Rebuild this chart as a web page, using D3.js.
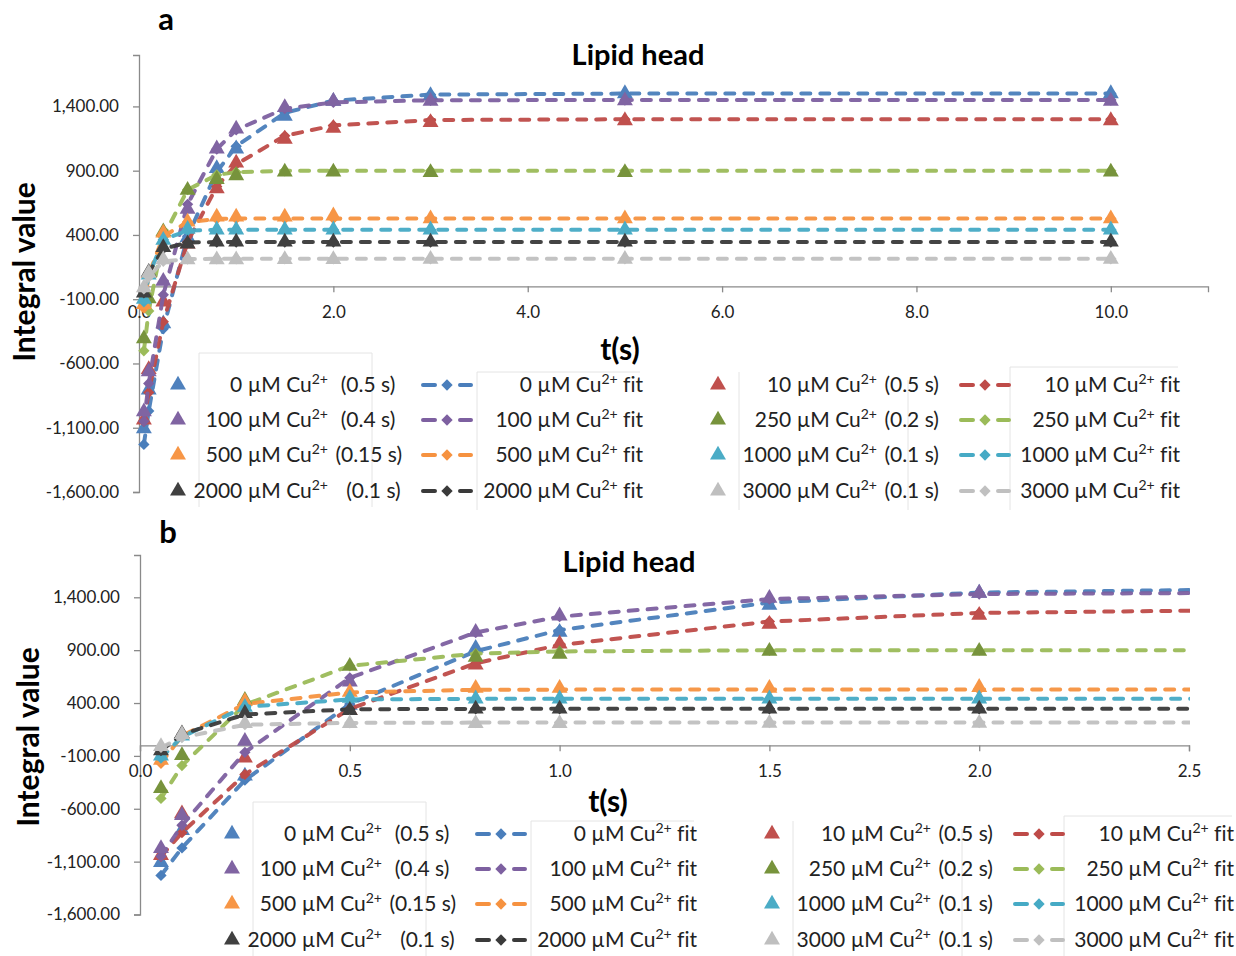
<!DOCTYPE html>
<html>
<head>
<meta charset="utf-8">
<script src="https://cdn.jsdelivr.net/npm/d3@7"></script>
<style>
  html, body { margin: 0; padding: 0; background: #ffffff; }
  svg { display: block; font-family: Lato, "Open Sans", sans-serif; font-variant-ligatures: none; }
  .pre { white-space: pre; }
</style>
</head>
<body>
<svg id="chart" width="1236" height="956"></svg>
<script>
// ---------------- DATA ----------------
const times = [0.05, 0.1, 0.25, 0.5, 0.8, 1.0, 1.5, 2.0, 3.0, 5.0, 10.0];
const concentrations = ["0", "10", "100", "250", "500", "1000", "2000", "3000"];
const tauLabels = ["(0.5 s)", "(0.5 s)", "(0.4 s)", "(0.2 s)", "(0.15 s)", "(0.1 s)", "(0.1 s)", "(0.1 s)"];

// measured integral values (triangles)
const data0    = [-1108, -805, -290, 380, 918, 1070, 1325, 1440, 1485, 1500, 1500];
const data10   = [-1040, -647, -120, 330, 760, 960, 1146, 1231, 1275, 1290, 1290];
const data100  = [-975, -663, 40, 600, 1070, 1225, 1392, 1440, 1440, 1445, 1440];
const data250  = [-407, -95, 426, 748, 833, 862, 890, 890, 886, 886, 890];
const data500  = [-140, 100, 415, 502, 540, 540, 540, 549, 527, 527, 527];
const data1000 = [-100, 90, 360, 445, 440, 440, 440, 440, 440, 440, 440];
const data2000 = [-50, 110, 303, 331, 345, 345, 345, 345, 345, 345, 345];
const data3000 = [-10, 104, 208, 208, 208, 208, 210, 210, 212, 212, 212];

// fitted values (dashed lines with diamonds)
const fit0    = [-1230, -970, -330, 390, 890, 1090, 1350, 1445, 1492, 1500, 1500];
const fit10   = [-1050, -826, -275, 345, 776, 949, 1171, 1252, 1294, 1300, 1300];
const fit100  = [-1050, -756, -66, 638, 1067, 1217, 1383, 1431, 1448, 1450, 1450];
const fit250  = [-502, -192, 384, 752, 867, 888, 899, 900, 900, 900, 900];
const fit500  = [-170, 90, 390, 500, 525, 527, 527, 527, 527, 527, 527];
const fit1000 = [-120, 80, 364, 434, 440, 440, 440, 440, 440, 440, 440];
const fit2000 = [-50, 105, 292, 341, 345, 345, 345, 345, 345, 345, 345];
const fit3000 = [-20, 73, 195, 212, 215, 215, 215, 215, 215, 215, 215];

const yTicks = [-1600, -1100, -600, -100, 400, 900, 1400];
const xTicksA = [0, 2, 4, 6, 8, 10];
const xTicksB = [0, 0.5, 1.0, 1.5, 2.0, 2.5];

const dataSeries = [data0, data10, data100, data250, data500, data1000, data2000, data3000];
const fitSeries  = [fit0, fit10, fit100, fit250, fit500, fit1000, fit2000, fit3000];

// ---------------- STYLE ----------------
const dataColors = ["#4F81BD", "#C0504D", "#8064A2", "#77933C", "#F79646", "#4BACC6", "#404040", "#BFBFBF"];
const fitColors  = ["#4A7EBB", "#BE4B48", "#7D60A0", "#9BBB59", "#F69240", "#46AAC5", "#3A3A3A", "#C0C0C0"];

const loc = d3.formatLocale({decimal: ".", thousands: ",", grouping: [3], currency: ["$", ""], minus: "-"});
const yFmt = loc.format(",.2f");
const xFmt = loc.format(".1f");

const svg = d3.select("#chart");
const axisColor = "#8a8a8a";
const textColor = "#222222";

const triSym = d3.symbol().type(d3.symbolTriangle).size(110);
const diaSym = d3.symbol().type(d3.symbolSquare).size(64);

function drawPanel(cfg) {
  const g = svg.append("g");
  const x = d3.scaleLinear().domain(cfg.xDomain).range(cfg.xRange);
  const y = d3.scaleLinear().domain([-1600, 1800]).range(cfg.yRange);

  // panel letter and title
  g.append("text").attr("x", cfg.letterPos[0]).attr("y", cfg.letterPos[1])
    .attr("text-anchor", "middle").attr("font-size", 31).attr("font-weight", 700)
    .attr("fill", "#000").text(cfg.letter);
  g.append("text").attr("x", cfg.titlePos[0]).attr("y", cfg.titlePos[1])
    .attr("text-anchor", "middle").attr("font-size", 29).attr("font-weight", 700)
    .attr("fill", "#000").text("Lipid head");

  // Y axis
  const yAxis = d3.axisLeft(y).tickValues(yTicks).tickFormat(yFmt).tickSize(6).tickPadding(14);
  const ya = g.append("g").attr("transform", `translate(${x(0)},0)`).call(yAxis);
  ya.select(".domain").attr("stroke", axisColor).attr("stroke-width", 1.3);
  ya.selectAll(".tick line").attr("stroke", axisColor).attr("stroke-width", 1.3);
  ya.selectAll(".tick text").attr("font-size", 17).attr("fill", textColor).attr("font-family", "Lato, sans-serif");

  // X axis (at y = 0)
  const xAxis = d3.axisBottom(x).tickValues(cfg.xTicks).tickFormat(xFmt).tickSize(6).tickPadding(14);
  const xa = g.append("g").attr("transform", `translate(0,${y(0)})`).call(xAxis);
  xa.select(".domain").attr("stroke", axisColor).attr("stroke-width", 1.3);
  xa.selectAll(".tick line").attr("stroke", axisColor).attr("stroke-width", 1.3);
  xa.selectAll(".tick text").attr("font-size", 17).attr("fill", textColor).attr("font-family", "Lato, sans-serif");

  // axis titles
  g.append("text").attr("transform", `translate(${cfg.yTitlePos[0]},${cfg.yTitlePos[1]}) rotate(-90)`)
    .attr("text-anchor", "middle").attr("font-size", 30).attr("font-weight", 700).attr("fill", "#000")
    .text("Integral value");
  g.append("text").attr("x", cfg.xTitlePos[0]).attr("y", cfg.xTitlePos[1])
    .attr("text-anchor", "middle").attr("font-size", 30).attr("font-weight", 700).attr("fill", "#000")
    .text("t(s)");

  // clip
  const clipId = "clip-" + cfg.letter;
  svg.append("clipPath").attr("id", clipId).append("rect")
    .attr("x", cfg.xRange[0] - 12).attr("y", cfg.yRange[1] - 10)
    .attr("width", cfg.xRange[1] - cfg.xRange[0] + 13)
    .attr("height", cfg.yRange[0] - cfg.yRange[1] + 20);
  const plot = g.append("g").attr("clip-path", `url(#${clipId})`);

  const line = d3.line().x((d, i) => x(times[i])).y(d => y(d));

  concentrations.forEach((c, k) => {
    plot.append("path").datum(fitSeries[k]).attr("d", line)
      .attr("fill", "none").attr("stroke", fitColors[k]).attr("stroke-width", 4)
      .attr("stroke-dasharray", "9,10").attr("stroke-linecap", "round").attr("opacity", 0.95);
    plot.selectAll(null).data(fitSeries[k]).enter().append("path")
      .attr("d", diaSym)
      .attr("transform", (d, i) => `translate(${x(times[i])},${y(d)}) rotate(45)`)
      .attr("fill", fitColors[k]);
    plot.selectAll(null).data(dataSeries[k]).enter().append("path")
      .attr("d", triSym)
      .attr("transform", (d, i) => `translate(${x(times[i])},${y(d)})`)
      .attr("fill", dataColors[k]);
  });

  // legend
  const L = g.append("g").attr("transform", `translate(${cfg.legendOffset[0]},${cfg.legendOffset[1]})`);
  // faint legend box edges
  const faint = "#e4e4e4";
  [[199, 353, 507], [372, 353, 507], [477, 372, 510], [739, 372, 510], [908, 380, 510], [1010, 367, 510]]
    .forEach(s => L.append("line").attr("x1", s[0]).attr("x2", s[0]).attr("y1", s[1]).attr("y2", s[2])
      .attr("stroke", faint).attr("stroke-width", 1));
  [[477, 372, 640], [1010, 367, 1178], [199, 353, 372]]
    .forEach(s => L.append("line").attr("x1", s[0]).attr("x2", s[2]).attr("y1", s[1]).attr("y2", s[1])
      .attr("stroke", faint).attr("stroke-width", 1));

  const rowY = [385, 420, 455, 491];
  const cols = [
    {tri: 178, nameEnd: 328, fitC: 447, fitEnd: 643, idx: [0, 2, 4, 6], pad: ["  ", "  ", " ", "   "]},
    {tri: 718, nameEnd: 877, fitC: 985, fitEnd: 1180, idx: [1, 3, 5, 7], pad: [" ", " ", " ", " "]}
  ];
  cols.forEach(col => {
    col.idx.forEach((k, r) => {
      const yy = rowY[r];
      L.append("path").attr("d", triSym).attr("transform", `translate(${col.tri},${yy})`).attr("fill", dataColors[k]);
      const t1 = L.append("text").attr("x", col.nameEnd).attr("y", yy + 7).attr("text-anchor", "end")
        .attr("font-size", 21).attr("fill", textColor);
      t1.append("tspan").text(concentrations[k] + " µM Cu");
      t1.append("tspan").attr("dy", -8).attr("font-size", 14).text("2+");
      L.append("text").attr("class", "pre").attr("x", col.nameEnd + 2).attr("y", yy + 7)
        .attr("font-size", 21).attr("fill", textColor).text(col.pad[r] + tauLabels[k]);
      // fit legend
      L.append("line").attr("x1", col.fitC - 24).attr("x2", col.fitC + 24).attr("y1", yy).attr("y2", yy)
        .attr("stroke", fitColors[k]).attr("stroke-width", 4).attr("stroke-dasharray", "12,25")
        .attr("stroke-linecap", "round");
      L.append("path").attr("d", diaSym).attr("transform", `translate(${col.fitC},${yy}) rotate(45)`).attr("fill", fitColors[k]);
      const t2 = L.append("text").attr("x", col.fitEnd).attr("y", yy + 7).attr("text-anchor", "end")
        .attr("font-size", 21).attr("fill", textColor);
      t2.append("tspan").text(concentrations[k] + " µM Cu");
      t2.append("tspan").attr("dy", -8).attr("font-size", 14).text("2+");
      t2.append("tspan").attr("dy", 8).text(" fit");
    });
  });
}

drawPanel({
  letter: "a", letterPos: [166, 30], titlePos: [638, 65],
  xDomain: [0, 11], xRange: [139, 1208], yRange: [492, 55], xTicks: xTicksA,
  yTitlePos: [35, 272], xTitlePos: [620, 360], legendOffset: [0, 0]
});
drawPanel({
  letter: "b", letterPos: [168, 543], titlePos: [629, 572],
  xDomain: [0, 2.5], xRange: [140, 1189], yRange: [914.5, 555], xTicks: xTicksB,
  yTitlePos: [39, 737], xTitlePos: [608, 812], legendOffset: [54, 449]
});
</script>
</body>
</html>
